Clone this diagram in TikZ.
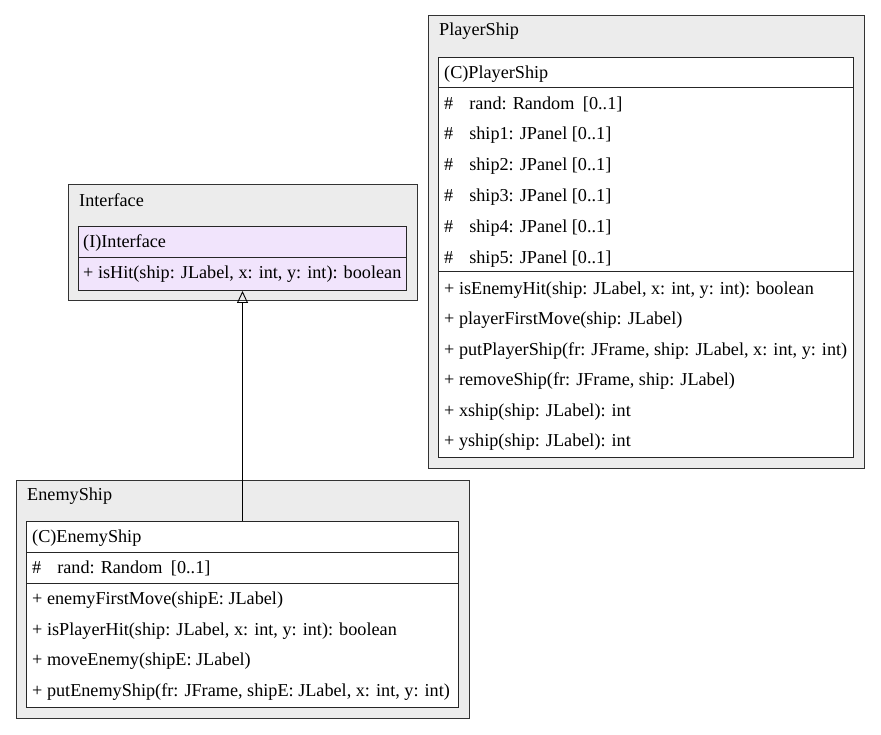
\documentclass[tikz,border=0pt]{standalone}
\usepackage{fontspec}
\setmainfont{Liberation Serif}
\usetikzlibrary{arrows.meta,positioning}
\definecolor{clustergray}{HTML}{ECECEC}
\definecolor{ifacefill}{HTML}{F1E4FC}
\tikzstyle{cluster} = [rectangle, draw=black!80, fill=clustergray, line width=1pt,
    anchor=north west, inner sep=0pt]
\tikzstyle{classbox} = [rectangle, draw=black!85, fill=white, line width=1pt,
    anchor=north west, inner sep=0pt]
\tikzstyle{row} = [anchor=west, inner sep=0pt, font=\fontsize{18.2}{20}\selectfont]
\tikzstyle{divider} = [draw=black!85, line width=1pt]
\tikzstyle{line} = [draw, line width=0.9pt, -{Triangle[open,width=11pt,length=12pt]}]
\newcommand{\attr}[1]{\#\hspace{16pt}#1}

\begin{document}
\begin{tikzpicture}[x=1pt,y=-1pt]
    \useasboundingbox (0,0) rectangle (881,735);
    % Place clusters
    \node[cluster,minimum width=349pt,minimum height=116pt] (ifaceCl) at (68,184) {};
    \node[cluster,minimum width=436pt,minimum height=453pt] (playerCl) at (428,15) {};
    \node[cluster,minimum width=453pt,minimum height=238pt] (enemyCl) at (16,480) {};
    \node[row] (ifaceLbl) at (79,200) {Interface};
    \node[row] (playerLbl) at (439,31) {PlayerShip};
    \node[row] (enemyLbl) at (27,496) {EnemyShip};

    % Place class boxes
    \node[classbox,fill=ifacefill,minimum width=328pt,minimum height=64pt] (ifaceBox) at (78,226) {};
    \node[classbox,minimum width=415pt,minimum height=400pt] (playerBox) at (438,57) {};
    \node[classbox,minimum width=432pt,minimum height=186pt] (enemyBox) at (26,521) {};

    \path[divider] (ifaceBox.west |- 0,258) -- (ifaceBox.east |- 0,258);
    \path[divider] (playerBox.west |- 0,88) -- (playerBox.east |- 0,88);
    \path[divider] (playerBox.west |- 0,272) -- (playerBox.east |- 0,272);
    \path[divider] (enemyBox.west |- 0,552) -- (enemyBox.east |- 0,552);
    \path[divider] (enemyBox.west |- 0,583) -- (enemyBox.east |- 0,583);

    % Interface
    \node[row] (ifaceName) at (83,243) {(I)Interface};
    \node[row] (isHit) at (83,274) {+ isHit(ship: JLabel, x: int, y: int): boolean};

    % PlayerShip
    \node[row] (playerName) at (444,74) {(C)PlayerShip};
    \node[row] (pRand) at (444,104) {\attr{rand: Random\hspace{4pt} [0..1]}};
    \node[row] (pShip1) at (444,135) {\attr{ship1: JPanel [0..1]}};
    \node[row] (pShip2) at (444,166) {\attr{ship2: JPanel [0..1]}};
    \node[row] (pShip3) at (444,197) {\attr{ship3: JPanel [0..1]}};
    \node[row] (pShip4) at (444,228) {\attr{ship4: JPanel [0..1]}};
    \node[row] (pShip5) at (444,259) {\attr{ship5: JPanel [0..1]}};
    \node[row] (isEnemyHit) at (444,290) {+ isEnemyHit(ship: JLabel, x: int, y: int): boolean};
    \node[row] (playerFirst) at (444,320) {+ playerFirstMove(ship: JLabel)};
    \node[row] (putPlayer) at (444,351) {+ putPlayerShip(fr: JFrame, ship: JLabel, x: int, y: int)};
    \node[row] (removeShip) at (444,381) {+ removeShip(fr: JFrame, ship: JLabel)};
    \node[row] (xship) at (444,412) {+ xship(ship: JLabel): int};
    \node[row] (yship) at (444,442) {+ yship(ship: JLabel): int};

    % EnemyShip
    \node[row] (enemyName) at (32,538) {(C)EnemyShip};
    \node[row] (eRand) at (32,568) {\attr{rand: Random\hspace{4pt} [0..1]}};
    \node[row] (enemyFirst) at (32,600) {+ enemyFirstMove(shipE: JLabel)};
    \node[row] (isPlayerHit) at (32,631) {+ isPlayerHit(ship: JLabel, x: int, y: int): boolean};
    \node[row] (moveEnemy) at (32,661) {+ moveEnemy(shipE: JLabel)};
    \node[row] (putEnemy) at (32,692) {+ putEnemyShip(fr: JFrame, shipE: JLabel, x: int, y: int)};

    % Draw edges
    \path [line] (enemyBox.north) -- (ifaceBox.south);

\end{tikzpicture}
\end{document}
